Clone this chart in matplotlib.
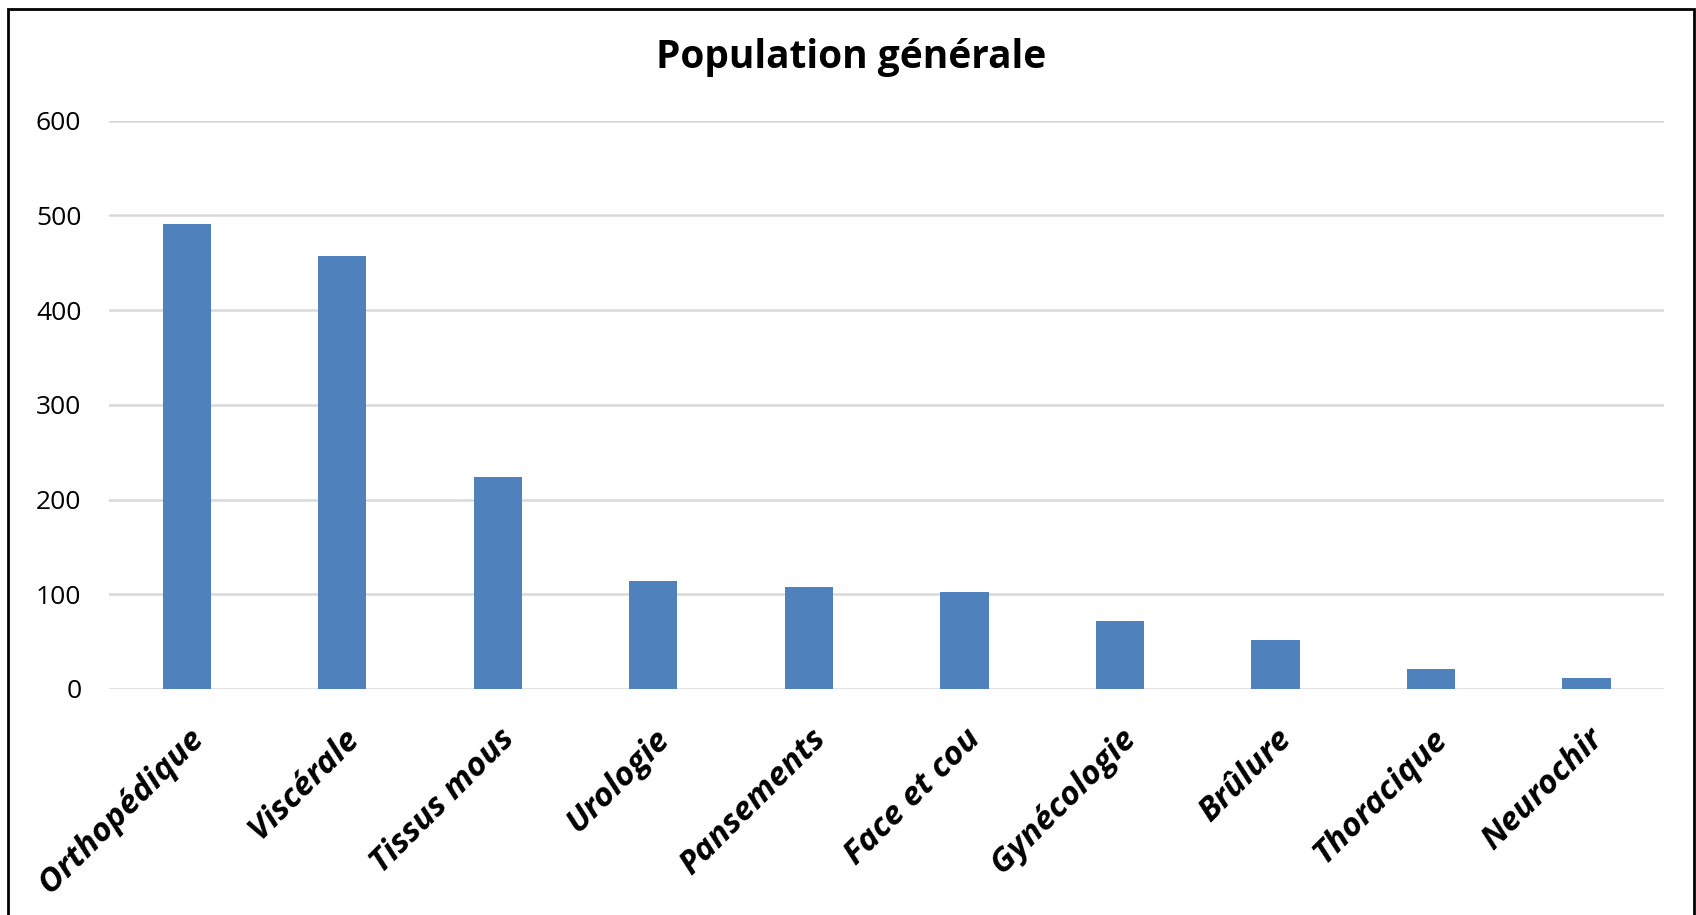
import matplotlib.pyplot as plt
from matplotlib.patches import Rectangle

# Nombre d'interventions par spécialité
specialites = ['Orthopédique', 'Viscérale', 'Tissus mous', 'Urologie', 'Pansements',
               'Face et cou', 'Gynécologie', 'Brûlure', 'Thoracique', 'Neurochir']
effectifs = [491, 457, 224, 114, 108, 102, 72, 52, 21, 12]
graduations = [0, 100, 200, 300, 400, 500, 600]

plt.rcParams['font.family'] = ['Open Sans', 'DejaVu Sans']

fig = plt.figure(figsize=(16.96, 9.15), dpi=100)
ax = fig.add_axes([0.0643, 0.247, 0.917, 0.621])

ax.bar(range(len(specialites)), effectifs, width=0.31, color='#4F81BD', zorder=3)
ax.set_xlim(-0.5, len(specialites) - 0.5)
ax.set_ylim(0, 600)
ax.set_yticks(graduations)
ax.yaxis.grid(True, color='#d9d9d9', linewidth=1.8, zorder=0)
for s in ax.spines.values():
    s.set_visible(False)
ax.tick_params(axis='y', length=0, pad=20, labelsize=19)
ax.tick_params(axis='x', length=0, pad=24)
ax.set_xticks(range(len(specialites)))
ax.set_xticklabels(specialites, rotation=45, ha='right', rotation_mode='anchor',
                   fontsize=24, fontweight='bold', fontstyle='italic')

fig.suptitle('Population générale', x=0.502, y=0.958, va='top',
             fontsize=28, fontweight='bold')

# Cadre autour du graphique
fig.patches.append(Rectangle((0.005, -0.1), 0.994, 1.09, transform=fig.transFigure,
                             fill=False, edgecolor='black', linewidth=2))

fig.savefig('out.png', dpi=100)
